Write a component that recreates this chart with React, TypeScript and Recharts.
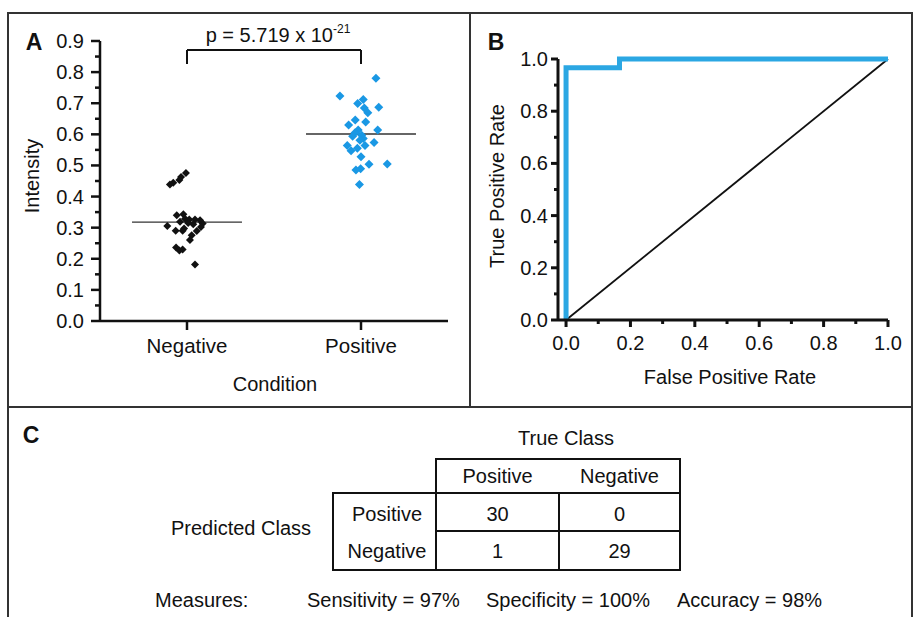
import React from 'react';
import { ScatterChart, Scatter, XAxis, YAxis, ReferenceLine, LineChart, Line } from 'recharts';

const FONT = '"Liberation Sans", Arial, Helvetica, sans-serif';
const INK = '#111';
const FRAME = '#333';
const BLUE_DOT = '#1a98e4';
const BLUE_LINE = '#2ba7e3';

// ---- Panel A: intensity per condition (x = category slot + horizontal jitter) ----
const conditionLabels = ['Negative', 'Positive'];
const conditionTicks = [0.5, 1.5];
const intensityTicks = [0, 0.05, 0.1, 0.15, 0.2, 0.25, 0.3, 0.35, 0.4, 0.45, 0.5, 0.55, 0.6, 0.65, 0.7, 0.75, 0.8, 0.85, 0.9];

const negativeX = [0.494, 0.466, 0.456, 0.421, 0.402, 0.441, 0.479, 0.489, 0.513, 0.546, 0.575, 0.59, 0.46, 0.507, 0.387, 0.536, 0.58, 0.435, 0.483, 0.475, 0.556, 0.527, 0.517, 0.437, 0.456, 0.475, 0.546];
const negativeY = [0.476, 0.463, 0.453, 0.444, 0.439, 0.34, 0.343, 0.329, 0.326, 0.326, 0.324, 0.313, 0.319, 0.315, 0.305, 0.311, 0.302, 0.29, 0.297, 0.29, 0.289, 0.276, 0.26, 0.236, 0.227, 0.23, 0.182];

const positiveX = [1.586, 1.379, 1.513, 1.481, 1.519, 1.602, 1.539, 1.467, 1.527, 1.429, 1.596, 1.484, 1.466, 1.452, 1.504, 1.513, 1.494, 1.575, 1.421, 1.523, 1.479, 1.443, 1.5, 1.546, 1.651, 1.498, 1.471, 1.491];
const positiveY = [0.78, 0.723, 0.712, 0.699, 0.685, 0.687, 0.669, 0.646, 0.64, 0.63, 0.614, 0.614, 0.605, 0.594, 0.597, 0.587, 0.581, 0.574, 0.564, 0.564, 0.555, 0.547, 0.528, 0.504, 0.505, 0.489, 0.485, 0.439];

const groupMeans = [0.318, 0.601];
const pValueBase = 'p = 5.719 x 10';
const pValueExp = '-21';

// ---- Panel B: ROC curve ----
const rocFpr = [0, 0, 0.166, 0.166, 1];
const rocTpr = [0, 0.966, 0.966, 1, 1];
const rateTicks = [0, 0.1, 0.2, 0.3, 0.4, 0.5, 0.6, 0.7, 0.8, 0.9, 1.0];

// ---- Panel C: confusion matrix ----
const classNames = ['Positive', 'Negative'];
const confusionRows = [
  [30, 0],
  [1, 29],
];
const measureNames = ['Sensitivity', 'Specificity', 'Accuracy'];
const measureValues = [97, 100, 98];

const negativeData = negativeX.map((x, i) => ({ x, y: negativeY[i] }));
const positiveData = positiveX.map((x, i) => ({ x, y: positiveY[i] }));
const rocData = rocFpr.map((fpr, i) => ({ fpr, tpr: rocTpr[i] }));

const MEAN_HALF = 0.316;
const BRACKET_TOP = 0.871;
const BRACKET_FOOT = 0.826;

// left axis tick: line + label (label only on major ticks)
const leftTick = (isMajor: (v: number) => boolean, majorLen: number, minorLen: number, gap: number, sw: number) =>
  (props: any) => {
    const { x, y, payload } = props;
    const v = payload.value as number;
    const major = isMajor(v);
    return (
      <g>
        <line x1={x - (major ? majorLen : minorLen)} x2={x} y1={y} y2={y} stroke={INK} strokeWidth={sw} />
        {major && (
          <text x={x - majorLen - gap} y={y} textAnchor="end" dominantBaseline="central" fontSize={20} fontFamily={FONT} fill={INK}>
            {v.toFixed(1)}
          </text>
        )}
      </g>
    );
  };

const bottomTick = (label: (v: number) => string | null, majorLen: number, minorLen: number, baseOffset: number, sw: number, fs: number) =>
  (props: any) => {
    const { x, y, payload } = props;
    const v = payload.value as number;
    const text = label(v);
    return (
      <g>
        <line x1={x} x2={x} y1={y} y2={y + (text !== null ? majorLen : minorLen)} stroke={INK} strokeWidth={sw} />
        {text !== null && (
          <text x={x} y={y + baseOffset} textAnchor="middle" fontSize={fs} fontFamily={FONT} fill={INK}>
            {text}
          </text>
        )}
      </g>
    );
  };

const diamond = (r: number) => (props: any) => {
  const { cx, cy, fill } = props;
  return <path d={`M${cx},${cy - r}L${cx + r},${cy}L${cx},${cy + r}L${cx - r},${cy}Z`} fill={fill} />;
};

function Txt({ x, y, children, size = 20, weight = 400, rotate = 0, align = 'center' }: any) {
  const tx = align === 'left' ? '0' : '-50%';
  return (
    <div
      style={{
        position: 'absolute',
        left: x,
        top: y,
        transform: `translate(${tx},-50%) rotate(${rotate}deg)`,
        fontSize: size,
        fontWeight: weight,
        lineHeight: 1,
        whiteSpace: 'nowrap',
      }}
    >
      {children}
    </div>
  );
}

function PanelA() {
  const isMajor = (v: number) => Math.round(v * 20) % 2 === 0;
  return (
    <div style={{ position: 'absolute', left: 0, top: 0 }}>
      <ScatterChart width={470} height={407} margin={{ top: 41, right: 22, bottom: 46, left: 40 }}>
        <XAxis
          type="number"
          dataKey="x"
          domain={[0, 2]}
          ticks={conditionTicks}
          interval={0}
          height={40}
          tickSize={0}
          tickMargin={0}
          tickLine={false}
          axisLine={{ stroke: INK, strokeWidth: 2.5 }}
          tick={bottomTick((v) => conditionLabels[Math.round(v - 0.5)], 9, 0, 32, 2.5, 20.5)}
        />
        <YAxis
          type="number"
          dataKey="y"
          domain={[0, 0.9]}
          ticks={intensityTicks}
          interval={0}
          width={60}
          tickSize={0}
          tickMargin={0}
          tickLine={false}
          axisLine={{ stroke: INK, strokeWidth: 2.5 }}
          tick={leftTick(isMajor, 9, 5, 7, 2.5)}
        />
        <Scatter data={negativeData} fill={INK} shape={diamond(4)} isAnimationActive={false} />
        <Scatter data={positiveData} fill={BLUE_DOT} shape={diamond(4.5)} isAnimationActive={false} />
        {groupMeans.map((m, i) => (
          <ReferenceLine
            key={i}
            segment={[{ x: conditionTicks[i] - MEAN_HALF, y: m }, { x: conditionTicks[i] + MEAN_HALF, y: m }]}
            stroke="#333"
            strokeWidth={1.3}
          />
        ))}
        <ReferenceLine segment={[{ x: conditionTicks[0], y: BRACKET_TOP }, { x: conditionTicks[1], y: BRACKET_TOP }]} stroke={INK} strokeWidth={2} />
        <ReferenceLine segment={[{ x: conditionTicks[0], y: BRACKET_TOP }, { x: conditionTicks[0], y: BRACKET_FOOT }]} stroke={INK} strokeWidth={2} />
        <ReferenceLine segment={[{ x: conditionTicks[1], y: BRACKET_TOP }, { x: conditionTicks[1], y: BRACKET_FOOT }]} stroke={INK} strokeWidth={2} />
      </ScatterChart>
    </div>
  );
}

function PanelB() {
  const isMajor = (v: number) => Math.round(v * 10) % 2 === 0;
  return (
    <div style={{ position: 'absolute', left: 470, top: 0 }}>
      <LineChart width={445} height={407} data={rocData} margin={{ top: 59, right: 27, bottom: 47, left: 28 }}>
        <XAxis
          type="number"
          dataKey="fpr"
          domain={[-0.025, 1]}
          ticks={rateTicks}
          interval={0}
          height={40}
          tickSize={0}
          tickMargin={0}
          tickLine={false}
          axisLine={{ stroke: INK, strokeWidth: 3 }}
          tick={bottomTick((v) => (isMajor(v) ? v.toFixed(1) : null), 7, 4, 30, 3, 20)}
        />
        <YAxis
          type="number"
          domain={[0, 1]}
          ticks={rateTicks}
          interval={0}
          width={60}
          tickSize={0}
          tickMargin={0}
          tickLine={false}
          axisLine={{ stroke: INK, strokeWidth: 3 }}
          tick={leftTick(isMajor, 7, 4, 3, 3)}
        />
        <ReferenceLine segment={[{ x: 0, y: 0 }, { x: 1, y: 1 }]} stroke={INK} strokeWidth={1.8} />
        <Line dataKey="tpr" type="linear" stroke={BLUE_LINE} strokeWidth={5} dot={false} isAnimationActive={false} />
      </LineChart>
    </div>
  );
}

function PanelC() {
  const colX = [497.5, 619.5];
  const rowY = [514, 551];
  const line = { position: 'absolute' as const, background: INK };
  return (
    <>
      <Txt x={31} y={435} size={23} weight={700}>C</Txt>
      <Txt x={566} y={438}>True Class</Txt>
      {/* table frame */}
      <div style={{ position: 'absolute', left: 435, top: 458, width: 246, height: 36, border: `2px solid ${INK}`, boxSizing: 'border-box' }} />
      <div style={{ position: 'absolute', left: 332, top: 492, width: 349, height: 79, border: `2px solid ${INK}`, boxSizing: 'border-box' }} />
      <div style={{ ...line, left: 435, top: 492, width: 2, height: 79 }} />
      <div style={{ ...line, left: 558, top: 492, width: 2, height: 79 }} />
      <div style={{ ...line, left: 435, top: 530, width: 246, height: 2 }} />
      {classNames.map((c, i) => (
        <Txt key={'h' + i} x={colX[i]} y={476}>{c}</Txt>
      ))}
      {classNames.map((c, i) => (
        <Txt key={'r' + i} x={387} y={rowY[i]}>{c}</Txt>
      ))}
      {confusionRows.map((row, i) =>
        row.map((v, j) => (
          <Txt key={`${i}-${j}`} x={colX[j]} y={rowY[i]}>{v}</Txt>
        ))
      )}
      <Txt x={241} y={528}>Predicted Class</Txt>
      <Txt x={155} y={600} align="left">Measures:</Txt>
      {measureNames.map((n, i) => (
        <Txt key={n} x={[307, 486, 677][i]} y={600} align="left">{`${n} = ${measureValues[i]}%`}</Txt>
      ))}
    </>
  );
}

export default function App() {
  return (
    <div
      style={{
        position: 'absolute',
        left: 0,
        top: 0,
        width: 915,
        height: 617,
        overflow: 'hidden',
        background: '#fff',
        fontFamily: FONT,
        color: INK,
      }}
    >
      {/* frame */}
      <div style={{ position: 'absolute', left: 7, top: 12, width: 906, height: 700, border: `2px solid ${FRAME}`, boxSizing: 'border-box' }} />
      <div style={{ position: 'absolute', left: 469, top: 12, width: 2, height: 396, background: FRAME }} />
      <div style={{ position: 'absolute', left: 7, top: 406, width: 906, height: 2, background: FRAME }} />

      <PanelA />
      <PanelB />

      <Txt x={34} y={42} size={23} weight={700}>A</Txt>
      <Txt x={496} y={42} size={23} weight={700}>B</Txt>
      <Txt x={278} y={35}>
        {pValueBase}
        <sup style={{ fontSize: 12, verticalAlign: 0, position: 'relative', top: -9 }}>{pValueExp}</sup>
      </Txt>
      <Txt x={32} y={176} rotate={-90}>Intensity</Txt>
      <Txt x={275} y={384}>Condition</Txt>
      <Txt x={497} y={186} rotate={-90}>True Positive Rate</Txt>
      <Txt x={730} y={377}>False Positive Rate</Txt>

      <PanelC />
    </div>
  );
}
